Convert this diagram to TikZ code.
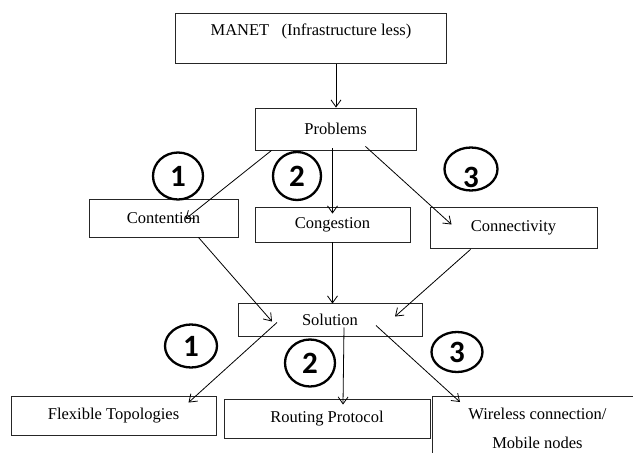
\documentclass[tikz,border=0pt]{standalone}
\usepackage{fontspec}
\setmainfont{Liberation Serif}
\newfontfamily\numfont{Carlito}
\usepackage{tikz}
\usetikzlibrary{calc,shapes.geometric,arrows.meta}

\tikzset{
    box/.style={draw=black!85, line width=0.9pt, inner sep=0pt,
        font=\fontsize{16.5}{19}\selectfont},
    numring/.style={draw, ellipse, line width=2.3pt, inner sep=0pt,
        font=\numfont\bfseries\fontsize{31}{31}\selectfont},
    link/.style={line width=0.8pt, -{Straight Barb[length=7pt,width=10pt]}}
}

\begin{document}
\begin{tikzpicture}[x=1pt,y=-1pt]
        \useasboundingbox (0,0) rectangle (633,453);

        % Boxes
        \node[box, anchor=north, minimum width=271pt, text height=22.5pt, text depth=27.5pt]
            (manet) at (311,13) {MANET\ \ \ (Infrastructure less)};
        \node[box, minimum width=161pt, minimum height=42pt] (prob) at (335.5,129) {Problems};

        \node[box, minimum width=149pt, minimum height=38pt] (cont) at (163.5,218) {Contention};
        \node[box, minimum width=155pt, minimum height=35pt] (cong) at (332.5,224.5) {Congestion};
        \node[box, minimum width=167pt, minimum height=41pt] (conn) at (513.5,227.5) {Connectivity};

        \node[box, minimum width=184pt, minimum height=33pt] (sol) at (330,319.5) {Solution};

        \node[box, minimum width=205pt, minimum height=39pt] (flex) at (113.5,415.5) {Flexible Topologies};
        \node[box, minimum width=206pt, minimum height=39pt] (rout) at (327,418.5) {Routing Protocol};
        \node[box, anchor=north west, minimum width=210pt, minimum height=64pt, align=center,
            font=\fontsize{16.5}{29}\selectfont]
            (wire) at (432,396) {Wireless connection/\\Mobile nodes};

        % Numbered rings
        \foreach \n/\x/\y/\w/\h in {1/178/176/50/47, 2/297/176/48/48}
            \node[numring, minimum width=\w pt, minimum height=\h pt] (u\n) at (\x,\y) {\n};
        \node[numring, minimum width=53pt, minimum height=43pt] (u3) at (471,169)
            {\raisebox{-18pt}[0pt][0pt]{3}};
        \foreach \n/\x/\y/\w/\h in {1/191/346/52/43, 2/310/363/50/47, 3/457/352/51/40}
            \node[numring, minimum width=\w pt, minimum height=\h pt] (l\n) at (\x,\y) {\n};

        % Arrows
        \draw[link] ($(manet.south)+(25,0)$) -- ($(prob.north)+(0.5,0)$);

        \draw[link] ($(prob.south)+(-64,0)$) -- ($(cont.center)+(22,1)$);
        \draw[link] ($(prob.south)+(-3,-2)$) -- ($(cong.north)+(0,7)$);
        \draw[link] ($(prob.south)+(30,-4)$) -- ($(conn.west)+(22,-3)$);

        \draw[link] ($(cont.south)+(35,0)$) -- ($(sol.center)+(-58,2)$);
        \draw[link] (cong.south) -- ($(sol.north)+(2.5,1)$);
        \draw[link] ($(conn.south)+(-43,1)$) -- ($(sol.center)+(65,-3)$);

        \draw[link] ($(sol.center)+(-53,3)$) -- ($(flex.north)+(75,7)$);
        \draw[link] ($(sol.south)+(14,-9)$) -- ($(rout.north)+(16,6)$);
        \draw[link] ($(sol.center)+(46,6)$) -- ($(wire.north west)+(28,6)$);
\end{tikzpicture}
\end{document}
